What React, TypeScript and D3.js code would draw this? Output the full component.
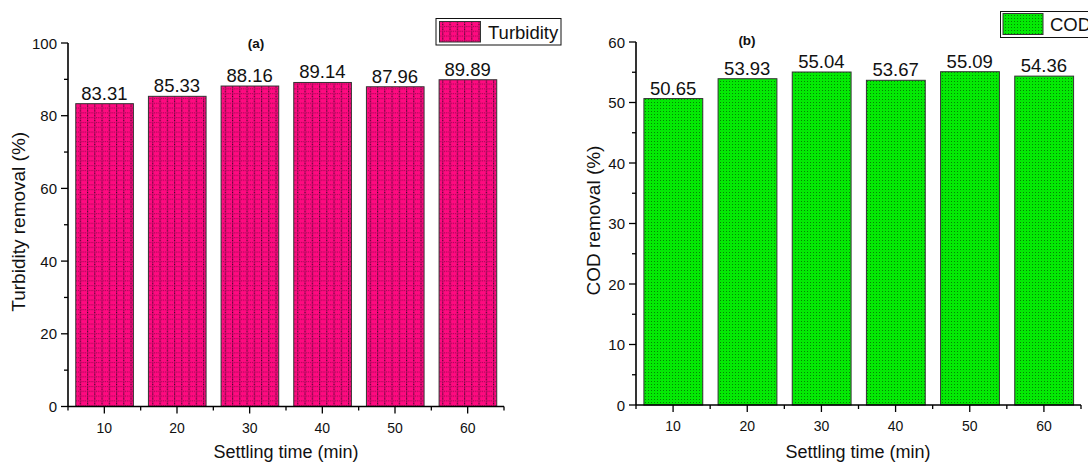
import React from "react";
import * as d3 from "d3";

const settlingTimes = [10, 20, 30, 40, 50, 60];
const turbidityValues = [83.31, 85.33, 88.16, 89.14, 87.96, 89.89];
const codValues = [50.65, 53.93, 55.04, 53.67, 55.09, 54.36];
const turbidityYTicks = [0, 20, 40, 60, 80, 100];
const codYTicks = [0, 10, 20, 30, 40, 50, 60];

const FONT = "'Liberation Sans', Arial, Helvetica, sans-serif";

type PanelProps = {
  xRange: [number, number];
  yRange: [number, number];
  yMax: number;
  yTicks: number[];
  yMinorStep: number;
  values: number[];
  fill: string;
  yLabel: string;
  yLabelX: number;
  title: string;
  titleX: number;
  titleY: number;
  xLabelX: number;
};

function Panel(p: PanelProps) {
  const x = d3.scaleLinear().domain([5, 65]).range(p.xRange);
  const y = d3.scaleLinear().domain([0, p.yMax]).range(p.yRange);
  const xMinor = d3.range(5, 66, 10);
  const yMinor = d3.range(p.yMinorStep, p.yMax, p.yMinorStep * 2);
  const axisX = p.xRange[0];
  const axisY = p.yRange[0];
  const bw = x(4) - x(0);
  return (
    <g>
      {settlingTimes.map((t, i) => (
        <rect
          key={t}
          x={x(t - 4) + 0.5}
          y={y(p.values[i])}
          width={bw * 2 - 0.5}
          height={y(0) - y(p.values[i])}
          fill={p.fill}
          stroke="#333"
          strokeWidth={1}
        />
      ))}
      {settlingTimes.map((t, i) => (
        <text
          key={"v" + t}
          x={x(t)}
          y={y(p.values[i]) - 4}
          textAnchor="middle"
          fontSize={18.5}
          fontFamily={FONT}
          fill="#111"
        >
          {p.values[i].toFixed(2)}
        </text>
      ))}
      <line x1={axisX} x2={axisX} y1={y(p.yMax)} y2={axisY} stroke="#000" strokeWidth={1.6} />
      <line x1={p.xRange[0]} x2={p.xRange[1]} y1={axisY} y2={axisY} stroke="#000" strokeWidth={1.6} />
      {p.yTicks.map((v) => (
        <g key={"yt" + v}>
          <line x1={axisX - 7} x2={axisX} y1={y(v)} y2={y(v)} stroke="#000" strokeWidth={1.3} />
          <text
            x={axisX - 11}
            y={y(v) + 5.5}
            textAnchor="end"
            fontSize={15}
            fontFamily={FONT}
            fill="#111"
          >
            {v}
          </text>
        </g>
      ))}
      {yMinor.map((v) => (
        <line key={"ym" + v} x1={axisX - 4} x2={axisX} y1={y(v)} y2={y(v)} stroke="#000" strokeWidth={1.3} />
      ))}
      {settlingTimes.map((t) => (
        <g key={"xt" + t}>
          <line x1={x(t)} x2={x(t)} y1={axisY} y2={axisY + 7} stroke="#000" strokeWidth={1.3} />
          <text
            x={x(t)}
            y={axisY + 26}
            textAnchor="middle"
            fontSize={14}
            fontFamily={FONT}
            fill="#111"
          >
            {t}
          </text>
        </g>
      ))}
      {xMinor.map((t) => (
        <line key={"xm" + t} x1={x(t)} x2={x(t)} y1={axisY} y2={axisY + 4} stroke="#000" strokeWidth={1.3} />
      ))}
      <text
        x={p.xLabelX}
        y={458}
        textAnchor="middle"
        fontSize={18}
        fontFamily={FONT}
        fill="#111"
      >
        Settling time (min)
      </text>
      <text
        transform={`translate(${p.yLabelX},${(y(0) + y(p.yMax)) / 2 - 3}) rotate(-90)`}
        textAnchor="middle"
        fontSize={19}
        fontFamily={FONT}
        fill="#111"
      >
        {p.yLabel}
      </text>
      <text
        x={p.titleX}
        y={p.titleY}
        textAnchor="middle"
        fontSize={13.5}
        fontWeight="bold"
        fontFamily={FONT}
        fill="#111"
      >
        {p.title}
      </text>
    </g>
  );
}

export default function App() {
  return (
    <svg
      width={1088}
      height={464}
      style={{ position: "absolute", left: 0, top: 0, background: "#fff" }}
    >
      <defs>
        <pattern id="pinkPat" patternUnits="userSpaceOnUse" width={7.25} height={4.8}>
          <rect width={7.25} height={4.8} fill="#FF0A80" />
          <rect x={0} y={0} width={1.1} height={1.2} fill="#3a0a22" />
          <rect x={0} y={2.4} width={1.1} height={1.2} fill="#3a0a22" />
          <rect x={0} y={1.2} width={1.1} height={1.2} fill="#c0086a" />
          <rect x={0} y={3.6} width={1.1} height={1.2} fill="#c0086a" />
          <rect x={1.8} y={2.1} width={1} height={0.9} fill="#8a0a4a" />
          <rect x={3.6} y={2.1} width={1} height={0.9} fill="#8a0a4a" />
          <rect x={5.4} y={2.1} width={1} height={0.9} fill="#8a0a4a" />
        </pattern>
        <pattern id="greenPat" patternUnits="userSpaceOnUse" width={3} height={3}>
          <rect width={3} height={3} fill="#00F000" />
          <rect x={0} y={0} width={1} height={1} fill="#0a7a0a" />
          <rect x={1.5} y={1.5} width={0.8} height={0.8} fill="#22b022" />
        </pattern>
      </defs>
      <rect width={1088} height={464} fill="#fff" />
      <Panel
        xRange={[68, 504]}
        yRange={[406.5, 43]}
        yMax={100}
        yTicks={turbidityYTicks}
        yMinorStep={10}
        values={turbidityValues}
        fill="url(#pinkPat)"
        yLabel="Turbidity removal (%)"
        yLabelX={25}
        title="(a)"
        titleX={256}
        titleY={48}
        xLabelX={286}
      />
      <Panel
        xRange={[636, 1081]}
        yRange={[405, 42]}
        yMax={60}
        yTicks={codYTicks}
        yMinorStep={5}
        values={codValues}
        fill="url(#greenPat)"
        yLabel="COD removal (%)"
        yLabelX={600}
        title="(b)"
        titleX={747}
        titleY={45}
        xLabelX={858}
      />
      <g>
        <rect x={436} y={18.5} width={125} height={26.5} fill="#fff" stroke="#111" strokeWidth={1} />
        <rect x={439.5} y={21.5} width={41} height={20.5} fill="url(#pinkPat)" stroke="#333" strokeWidth={1} />
        <text x={488} y={38.5} fontSize={18.5} fontFamily={FONT} fill="#111">
          Turbidity
        </text>
      </g>
      <g>
        <rect x={1000.5} y={11.5} width={100} height={26} fill="#fff" stroke="#111" strokeWidth={1} />
        <rect x={1003} y={13.5} width={40} height={21} fill="url(#greenPat)" stroke="#333" strokeWidth={1} />
        <text x={1050} y={31} fontSize={18.5} fontFamily={FONT} fill="#111">
          COD
        </text>
      </g>
    </svg>
  );
}
